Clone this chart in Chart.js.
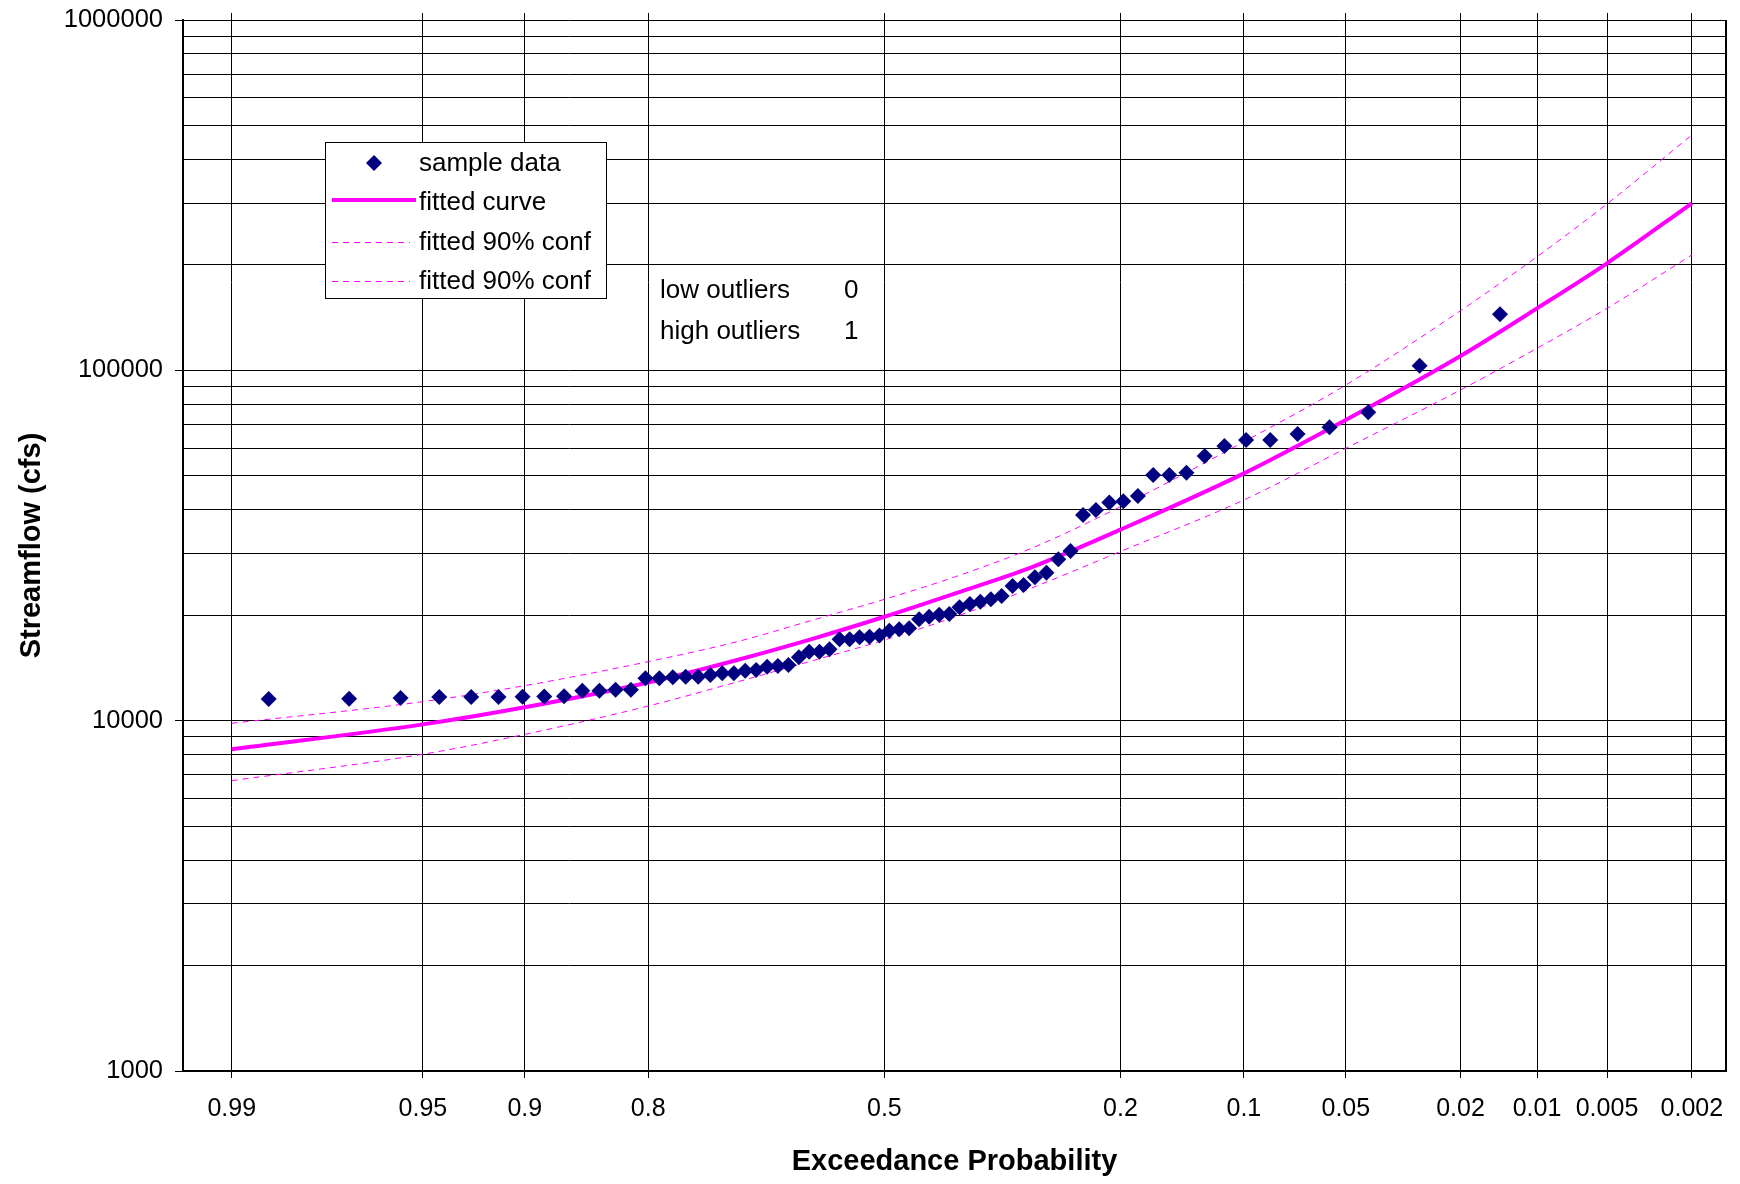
<!DOCTYPE html>
<html>
<head>
<meta charset="utf-8">
<script src="https://cdn.jsdelivr.net/npm/chart.js@4.4.0/dist/chart.umd.min.js"></script>
<style>
  html, body { margin: 0; padding: 0; background: #fff; }
  #wrap { width: 1740px; height: 1184px; position: relative; }
</style>
</head>
<body>
<div id="wrap"><canvas id="c" width="1740" height="1184"></canvas></div>
<script>
// ---------------- DATA ----------------
// x-axis tick probabilities (exceedance) and their labels
const xTickProbs  = [0.99, 0.95, 0.9, 0.8, 0.5, 0.2, 0.1, 0.05, 0.02, 0.01, 0.005, 0.002];
const xTickLabels = ['0.99', '0.95', '0.9', '0.8', '0.5', '0.2', '0.1', '0.05', '0.02', '0.01', '0.005', '0.002'];

// y-axis (log) labelled decades and minor gridline multipliers
const yMajorTicks = [1000, 10000, 100000, 1000000];
const yTickLabels = ['1000', '10000', '100000', '1000000'];
const yMinorMultipliers = [2, 3, 4, 5, 6, 7, 8, 9];

// sample data: exceedance probability (plotting position) and streamflow (cfs)
const sampleExceedance = [
  0.9859, 0.9718, 0.9577, 0.9437, 0.9296, 0.9155, 0.9014, 0.8873, 0.8732, 0.8592,
  0.8451, 0.8310, 0.8169, 0.8028, 0.7887, 0.7746, 0.7606, 0.7465, 0.7324, 0.7183,
  0.7042, 0.6901, 0.6761, 0.6620, 0.6479, 0.6338, 0.6197, 0.6056, 0.5915, 0.5775,
  0.5634, 0.5493, 0.5352, 0.5211, 0.5070, 0.4930, 0.4789, 0.4648, 0.4507, 0.4366,
  0.4225, 0.4085, 0.3944, 0.3803, 0.3662, 0.3521, 0.3380, 0.3239, 0.3099, 0.2958,
  0.2817, 0.2676, 0.2535, 0.2394, 0.2254, 0.2113, 0.1972, 0.1831, 0.1690, 0.1549,
  0.1408, 0.1268, 0.1127, 0.0986, 0.0845, 0.0704, 0.0563, 0.0423, 0.0282, 0.0141
];
const sampleFlow = [
  11530, 11550, 11610, 11680, 11680, 11680, 11700, 11720, 11740, 12180,
  12180, 12260, 12260, 13210, 13210, 13300, 13350, 13350, 13500, 13650,
  13650, 13890, 13950, 14260, 14330, 14420, 15170, 15740, 15740, 15990,
  17070, 17070, 17300, 17370, 17500, 18070, 18240, 18360, 19470, 19810,
  20070, 20160, 21070, 21530, 21860, 22210, 22700, 24240, 24400, 25660,
  26450, 28880, 30500, 38650, 39940, 41970, 42290, 43780, 50270, 50270,
  51030, 56940, 60810, 63260, 63260, 65810, 68770, 75900, 103100, 144600
];

// fitted curve and 90% confidence limits
const curveExceedance = [0.99, 0.95, 0.9, 0.8, 0.7, 0.6, 0.5, 0.4, 0.3, 0.2, 0.1, 0.05, 0.02, 0.01, 0.005, 0.002];
const fittedFlow = [8285, 9760, 10920, 12850, 14900, 17150, 19800, 23100, 27400, 35100, 50800, 72200, 109900, 150300, 202100, 299800];
const upperConf  = [9830, 11330, 12590, 14740, 16810, 19390, 22200, 25760, 31050, 40800, 62560, 90800, 148000, 211000, 298500, 469600];
const lowerConf  = [6740, 8020, 9140, 11010, 12900, 14850, 16990, 19800, 23900, 30400, 42660, 59900, 87900, 115600, 150300, 213500];

const outlierLabels = ['low outliers', 'high outliers'];
const outlierCounts = [0, 1];

// ---------------- HELPERS ----------------
// inverse standard normal CDF (Acklam)
function normInv(p) {
  const a = [-3.969683028665376e+01, 2.209460984245205e+02, -2.759285104469687e+02, 1.383577518672690e+02, -3.066479806614716e+01, 2.506628277459239e+00];
  const b = [-5.447609879822406e+01, 1.615858368580409e+02, -1.556989798598866e+02, 6.680131188771972e+01, -1.328068155288572e+01];
  const c = [-7.784894002430293e-03, -3.223964580411365e-01, -2.400758277161838e+00, -2.549732539343734e+00, 4.374664141464968e+00, 2.938163982698783e+00];
  const d = [7.784695709041462e-03, 3.224671290700398e-01, 2.445134137142996e+00, 3.754408661907416e+00];
  const pl = 0.02425, ph = 1 - pl;
  let q, r;
  if (p < pl) {
    q = Math.sqrt(-2 * Math.log(p));
    return (((((c[0]*q+c[1])*q+c[2])*q+c[3])*q+c[4])*q+c[5]) / ((((d[0]*q+d[1])*q+d[2])*q+d[3])*q+1);
  }
  if (p <= ph) {
    q = p - 0.5; r = q * q;
    return (((((a[0]*r+a[1])*r+a[2])*r+a[3])*r+a[4])*r+a[5])*q / (((((b[0]*r+b[1])*r+b[2])*r+b[3])*r+b[4])*r+1);
  }
  q = Math.sqrt(-2 * Math.log(1 - p));
  return -(((((c[0]*q+c[1])*q+c[2])*q+c[3])*q+c[4])*q+c[5]) / ((((d[0]*q+d[1])*q+d[2])*q+d[3])*q+1);
}
// probability-paper position: standard normal variate of non-exceedance
const zOf = p => normInv(1 - p);
const toPoints = (probs, vals) => probs.map((p, i) => ({ x: zOf(p), y: vals[i] }));

const yTickValues = [];
yMajorTicks.forEach((m, i) => {
  yTickValues.push(m);
  if (i < yMajorTicks.length - 1) yMinorMultipliers.forEach(k => yTickValues.push(k * m));
});
yTickValues.sort((a, b) => a - b);

// ---------------- CHART ----------------
const FONT = '"Liberation Sans", Arial, Helvetica, sans-serif';
Chart.defaults.font.family = FONT;
Chart.defaults.color = '#000';

const NAVY = '#000080';
const MAGENTA = '#FF00FF';

const overlay = {
  id: 'overlay',
  beforeDatasetsDraw(chart) {
    const { ctx, chartArea } = chart;
    ctx.save();
    ctx.strokeStyle = '#000';
    ctx.lineWidth = 2;
    ctx.beginPath();
    ctx.moveTo(chartArea.right, chartArea.top);
    ctx.lineTo(chartArea.right, chartArea.bottom);
    ctx.stroke();
    ctx.restore();
  },
  afterDraw(chart) {
    const ctx = chart.ctx;
    const ds = chart.data.datasets;
    ctx.save();
    // legend box
    ctx.fillStyle = '#fff';
    ctx.fillRect(325, 142, 282, 157);
    ctx.strokeStyle = '#000';
    ctx.lineWidth = 1;
    ctx.strokeRect(325.5, 142.5, 281, 156);

    const rows = [163, 202, 242, 281];
    ctx.font = '26px ' + FONT;
    ctx.textBaseline = 'middle';
    ctx.textAlign = 'left';
    ds.forEach((d, i) => {
      const y = rows[i];
      if (i === 0) {
        const x = 374, r = 8;
        ctx.fillStyle = d.backgroundColor;
        ctx.beginPath();
        ctx.moveTo(x, y - r); ctx.lineTo(x + r, y); ctx.lineTo(x, y + r); ctx.lineTo(x - r, y);
        ctx.closePath();
        ctx.fill();
      } else {
        ctx.strokeStyle = d.borderColor;
        ctx.lineWidth = d.borderWidth;
        ctx.setLineDash(d.borderDash || []);
        ctx.beginPath();
        ctx.moveTo(332, i === 1 ? y - 2 : y + 0.5);
        ctx.lineTo(i === 1 ? 416 : 410, i === 1 ? y - 2 : y + 0.5);
        ctx.stroke();
        ctx.setLineDash([]);
      }
      ctx.fillStyle = '#000';
      ctx.fillText(d.label, 419, y + 1);
    });

    // outlier text
    outlierLabels.forEach((t, i) => {
      const y = 291 + i * 41;
      ctx.fillText(t, 660, y);
      ctx.fillText(String(outlierCounts[i]), 844, y);
    });
    ctx.restore();
  }
};

const xTicksFromProbs = scale => { scale.ticks = xTickProbs.map(p => ({ value: zOf(p) })); };
const noPad = s => { s.paddingTop = 0; s.paddingBottom = 0; s.paddingLeft = 0; s.paddingRight = 0; };

new Chart(document.getElementById('c'), {
  type: 'scatter',
  data: {
    datasets: [
      {
        label: 'sample data',
        data: toPoints(sampleExceedance, sampleFlow),
        pointStyle: 'rectRot',
        pointRadius: 8,
        pointBorderWidth: 0,
        backgroundColor: NAVY,
        borderColor: NAVY,
        showLine: false
      },
      {
        label: 'fitted curve',
        data: toPoints(curveExceedance, fittedFlow),
        showLine: true,
        borderColor: MAGENTA,
        backgroundColor: MAGENTA,
        borderWidth: 4,
        pointRadius: 0,
        cubicInterpolationMode: 'monotone'
      },
      {
        label: 'fitted 90% conf',
        data: toPoints(curveExceedance, upperConf),
        showLine: true,
        borderColor: MAGENTA,
        backgroundColor: MAGENTA,
        borderWidth: 1,
        borderDash: [6, 5],
        pointRadius: 0,
        cubicInterpolationMode: 'monotone'
      },
      {
        label: 'fitted 90% conf',
        data: toPoints(curveExceedance, lowerConf),
        showLine: true,
        borderColor: MAGENTA,
        backgroundColor: MAGENTA,
        borderWidth: 1,
        borderDash: [6, 5],
        pointRadius: 0,
        cubicInterpolationMode: 'monotone'
      }
    ]
  },
  options: {
    responsive: false,
    animation: false,
    devicePixelRatio: 1,
    layout: { padding: { left: 0, right: 14, top: 0, bottom: 0 } },
    plugins: { legend: { display: false }, tooltip: { enabled: false } },
    scales: {
      x: {
        type: 'linear',
        position: 'bottom',
        min: -2.5,
        max: 3.0,
        afterBuildTicks: xTicksFromProbs,
        afterFit: s => { s.height = 113; noPad(s); },
        ticks: {
          autoSkip: false,
          maxRotation: 0,
          padding: 16,
          font: { size: 25 },
          callback: (v, i) => xTickLabels[i]
        },
        grid: { color: '#000', lineWidth: 1, drawTicks: true, tickLength: 7, tickColor: '#000' },
        border: { display: true, color: '#000', width: 2 },
        title: {
          display: true,
          text: 'Exceedance Probability',
          font: { size: 29, weight: 'bold' },
          padding: { top: 0, bottom: 5 }
        }
      },
      xTop: {
        type: 'linear',
        position: 'top',
        min: -2.5,
        max: 3.0,
        afterBuildTicks: xTicksFromProbs,
        afterFit: s => { s.height = 20; noPad(s); },
        ticks: { display: false },
        grid: { drawOnChartArea: false, drawTicks: true, tickLength: 7, tickColor: '#000', color: '#000' },
        border: { display: false }
      },
      y: {
        type: 'logarithmic',
        position: 'left',
        min: 1000,
        max: 1000000,
        afterBuildTicks: scale => { scale.ticks = yTickValues.map(v => ({ value: v })); },
        afterFit: s => { s.width = 183; noPad(s); },
        ticks: {
          autoSkip: false,
          padding: 12,
          font: { size: 25.5 },
          callback: v => { const k = yMajorTicks.indexOf(v); return k >= 0 ? yTickLabels[k] : ''; }
        },
        grid: {
          color: '#000',
          lineWidth: 1,
          drawTicks: true,
          tickLength: 8,
          tickColor: c => (c.tick && yMajorTicks.includes(c.tick.value)) ? '#000' : 'rgba(0,0,0,0)'
        },
        border: { display: true, color: '#000', width: 2 },
        title: {
          display: true,
          text: 'Streamflow (cfs)',
          font: { size: 29, weight: 'bold' },
          padding: { top: 15, bottom: 0 }
        }
      }
    }
  },
  plugins: [overlay]
});
</script>
</body>
</html>
